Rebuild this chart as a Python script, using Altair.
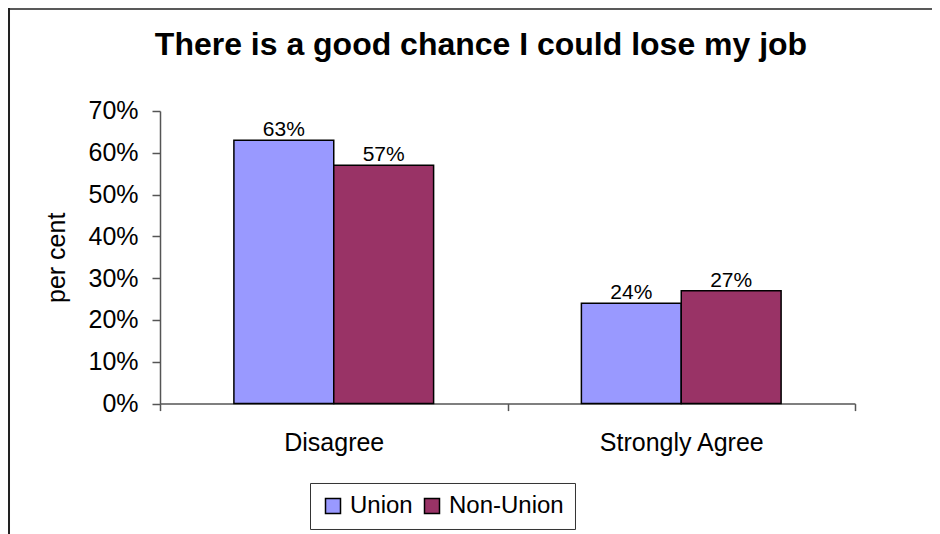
import altair as alt
import pandas as pd

categories = ["Disagree", "Strongly Agree"]
groups = ["Union", "Non-Union"]
union_values = [0.63, 0.24]
non_union_values = [0.57, 0.27]
colors = ["#9999FF", "#993366"]
y_ticks = [0, 0.1, 0.2, 0.3, 0.4, 0.5, 0.6, 0.7]
title_text = "There is a good chance I could lose my job"

rows = []
for i, c in enumerate(categories):
    rows.append({"category": c, "group": groups[0], "value": union_values[i]})
    rows.append({"category": c, "group": groups[1], "value": non_union_values[i]})
df = pd.DataFrame(rows)

FONT = "Liberation Sans"

x_enc = alt.X(
    "category:N",
    sort=categories,
    scale=alt.Scale(paddingInner=0, paddingOuter=0),
    axis=alt.Axis(
        title=None, labelAngle=0, tickBand="extent", tickSize=7,
        labelPadding=20, labelFontSize=25, labelFont=FONT, labelColor="black",
        domainColor="#555555", tickColor="#555555", domainWidth=1.5, tickWidth=1.5,
        grid=False,
    ),
)
xo_enc = alt.XOffset(
    "group:N", sort=groups,
    scale=alt.Scale(paddingInner=0, paddingOuter=0.74),
)
y_enc = alt.Y(
    "value:Q",
    stack=None,
    scale=alt.Scale(domain=[0, 0.7], nice=False),
    axis=alt.Axis(
        title="per cent", format=".0%", values=y_ticks, tickSize=8,
        labelPadding=14, labelFontSize=25, labelFont=FONT, labelColor="black",
        titleFontSize=25, titleFont=FONT, titleFontWeight="normal", titleColor="black",
        titlePadding=18, domainColor="#555555", tickColor="#555555",
        domainWidth=1.5, tickWidth=1.5, grid=False,
    ),
)

bars = alt.Chart(df).mark_bar(stroke="black", strokeWidth=1.5).encode(
    x=x_enc,
    xOffset=xo_enc,
    y=y_enc,
    color=alt.Color(
        "group:N", sort=groups,
        scale=alt.Scale(domain=groups, range=colors),
        legend=alt.Legend(
            title=None, orient="none", legendX=150, legendY=372,
            direction="horizontal", symbolType="square", symbolSize=225,
            symbolStrokeColor="black", symbolStrokeWidth=1.5, symbolOpacity=1,
            labelFontSize=24, labelFont=FONT, labelColor="black",
            labelOffset=5, columnPadding=7, padding=11,
            strokeColor="#333333", fillColor="white",
        ),
    ),
)

labels = alt.Chart(df).mark_text(
    baseline="alphabetic", dy=-4, fontSize=21, font=FONT, color="black"
).encode(
    x=alt.X("category:N", sort=categories),
    xOffset=alt.XOffset("group:N", sort=groups),
    y=alt.Y("value:Q", stack=None),
    text=alt.Text("value:Q", format=".0%"),
)

title_df = pd.DataFrame({"t": [title_text]})
title_mark = alt.Chart(title_df).mark_text(
    font=FONT, fontSize=32, fontWeight="bold", color="black",
    align="center", baseline="alphabetic",
).encode(
    text="t:N", x=alt.value(321), y=alt.value(-56)
)

frame_df = pd.DataFrame({"k": [0]})
left_border = alt.Chart(frame_df).mark_rule(color="#222222", strokeWidth=2).encode(
    x=alt.value(-151), y=alt.value(-103), y2=alt.value(430)
)
top_border = alt.Chart(frame_df).mark_rule(color="#222222", strokeWidth=1.5).encode(
    x=alt.value(-152), x2=alt.value(780), y=alt.value(-102)
)

chart = alt.layer(bars, labels, title_mark, left_border, top_border).properties(
    width=695,
    height=292.6,
    padding={"left": 152, "top": 103, "right": 77, "bottom": 130},
    autosize=alt.AutoSizeParams(type="none"),
    background="white",
).configure_view(stroke=None)

chart.save("out.html", embed_options={"renderer": "svg", "actions": False})
